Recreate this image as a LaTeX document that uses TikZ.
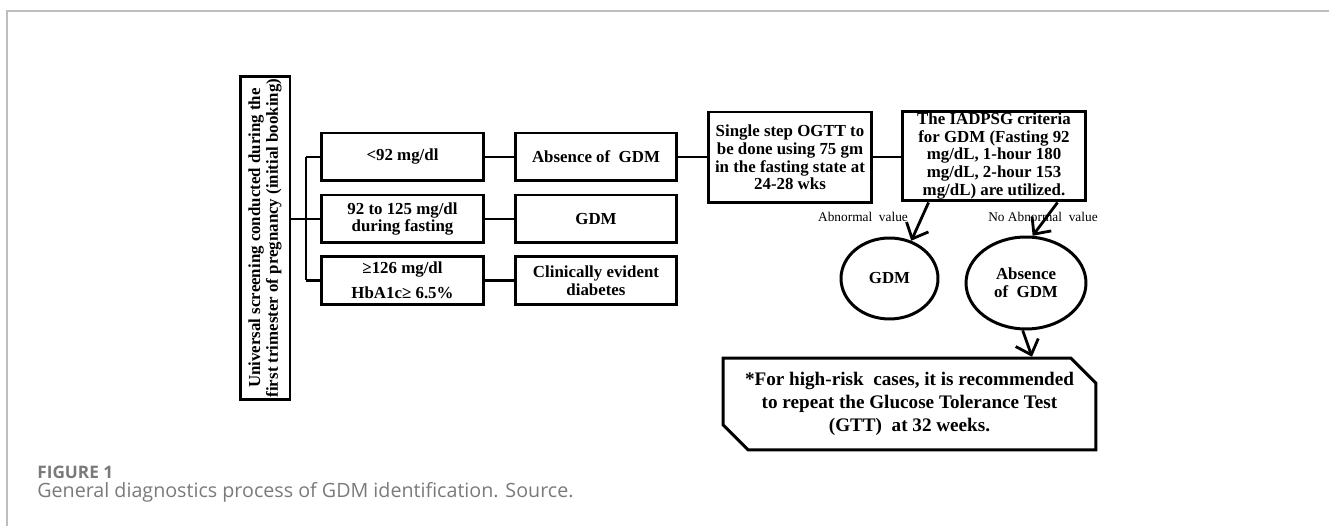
\documentclass[tikz,border=0pt]{standalone}
\usepackage{fontspec}
\setmainfont{Liberation Serif}
\newfontfamily\capfont{Open Sans}
\usepackage{xcolor}
\usepackage{tikz}
\usetikzlibrary{positioning,calc,arrows.meta,shapes.geometric,shapes.misc}

\definecolor{framegray}{HTML}{BDBDBD}
\definecolor{capgray}{HTML}{7A7A7A}

\begin{document}
\begin{tikzpicture}[x=0.02cm,y=-0.02cm,
    box/.style={draw,line width=1.7pt,align=center,inner sep=1pt,
        font=\fontsize{9.6}{10.1}\selectfont\bfseries},
    rowbox/.style={box,minimum width=3.24cm,minimum height=0.96cm},
    oval/.style={draw,ellipse,line width=1.7pt,align=center,inner sep=0pt,
        font=\fontsize{9.6}{10.1}\selectfont\bfseries},
    link/.style={line width=1.6pt},
    arr/.style={line width=1.6pt,-{Straight Barb[length=2.6mm,width=4.8mm,line width=1.6pt]}},
    tag/.style={font=\fontsize{7.6}{9}\selectfont,inner sep=0pt}]
    \useasboundingbox (0,0) rectangle (1329,526);
    
    % page frame
    \draw[framegray,line width=0.8pt] (7,526) -- (7,11) -- (1329,11);
    
    % first column
    \node[box,rotate=90,minimum width=6cm,minimum height=1cm] (screen) at (265,238)
        {Universal screening conducted during the\\first trimester of pregnancy (initial booking)};
    \coordinate (fork) at (306,219);
    
    \node[rowbox] (low1) at (402.5,157) {<92 mg/dl};
    \node[rowbox] (low2) at (402.5,219) {92 to 125 mg/dl\\during fasting};
    \node[rowbox] (low3) at (402.5,280.5) {≥126 mg/dl\\[4pt]HbA1c≥ 6.5\%};
    
    \node[rowbox] (mid1) at (596,157) {Absence of \ GDM};
    \node[rowbox] (mid2) at (596,219) {GDM};
    \node[rowbox] (mid3) at (596,280.5) {Clinically evident\\diabetes};
    
    \node[box,minimum width=3.28cm,minimum height=1.82cm] (ogtt) at (790,157.5)
        {Single step OGTT to\\be done using 75 gm\\in the fasting state at\\24-28 wks};
    \node[box,minimum width=3.68cm,minimum height=1.76cm] (iad) at (994,156)
        {The IADPSG criteria\\for GDM (Fasting 92\\mg/dL, 1-hour 180\\mg/dL, 2-hour 153\\mg/dL) are utilized.};
    
    \node[oval,minimum width=1.94cm,minimum height=1.62cm] (gdm) at (889.5,278.5) {GDM};
    \node[oval,minimum width=2.4cm,minimum height=1.84cm] (absent) at (1026,283) {Absence\\of \ GDM};
    
    \node[box,chamfered rectangle,chamfered rectangle corners={north east,south west},
        chamfered rectangle xsep=0.25cm,chamfered rectangle ysep=0.25cm,
        minimum width=7.46cm,minimum height=1.56cm,
        font=\fontsize{10.9}{13}\selectfont\bfseries] (note) at (909.5,404)
        {*For high-risk \ cases, it is recommended\\to repeat the Glucose Tolerance Test\\(GTT) \ at 32 weeks.};
    
    % connectors
    \draw[link] (screen.south |- fork) -- (fork);
    \draw[link] (fork |- low1) -- (fork |- low3);
    \foreach \i in {1,2,3}{
        \draw[link] (fork |- low\i) -- (low\i);
        \draw[link] (low\i) -- (mid\i);
    }
    \draw[link] (mid1) -- (mid1 -| ogtt.west);
    \draw[link] (ogtt.east |- mid1) -- (iad.west |- mid1);
    
    \draw[arr] ($(iad.south west)!0.15!(iad.south east)$) -- (gdm.60);
    \draw[arr] ($(iad.south west)!0.84!(iad.south east)$) -- (absent.82);
    \draw[arr] (absent.266) -- ([xshift=2.45cm]note.north);
    
    \node[tag] (abn) at (863,217) {Abnormal \ value};
    \node[tag] (noabn) at (1043,217) {No Abnormal \ value};
    
    % caption
    \node[anchor=base west,inner sep=0pt,text=capgray,font=\capfont\fontsize{9.8}{11}\selectfont\bfseries] (fig) at (37,479) {FIGURE 1};
    \node[anchor=base west,inner sep=0pt,text=capgray,font=\capfont\fontsize{11.2}{13}\selectfont] (cap) at (37,498)
        {General diagnostics process of GDM identification. Source.};
\end{tikzpicture}
\end{document}
